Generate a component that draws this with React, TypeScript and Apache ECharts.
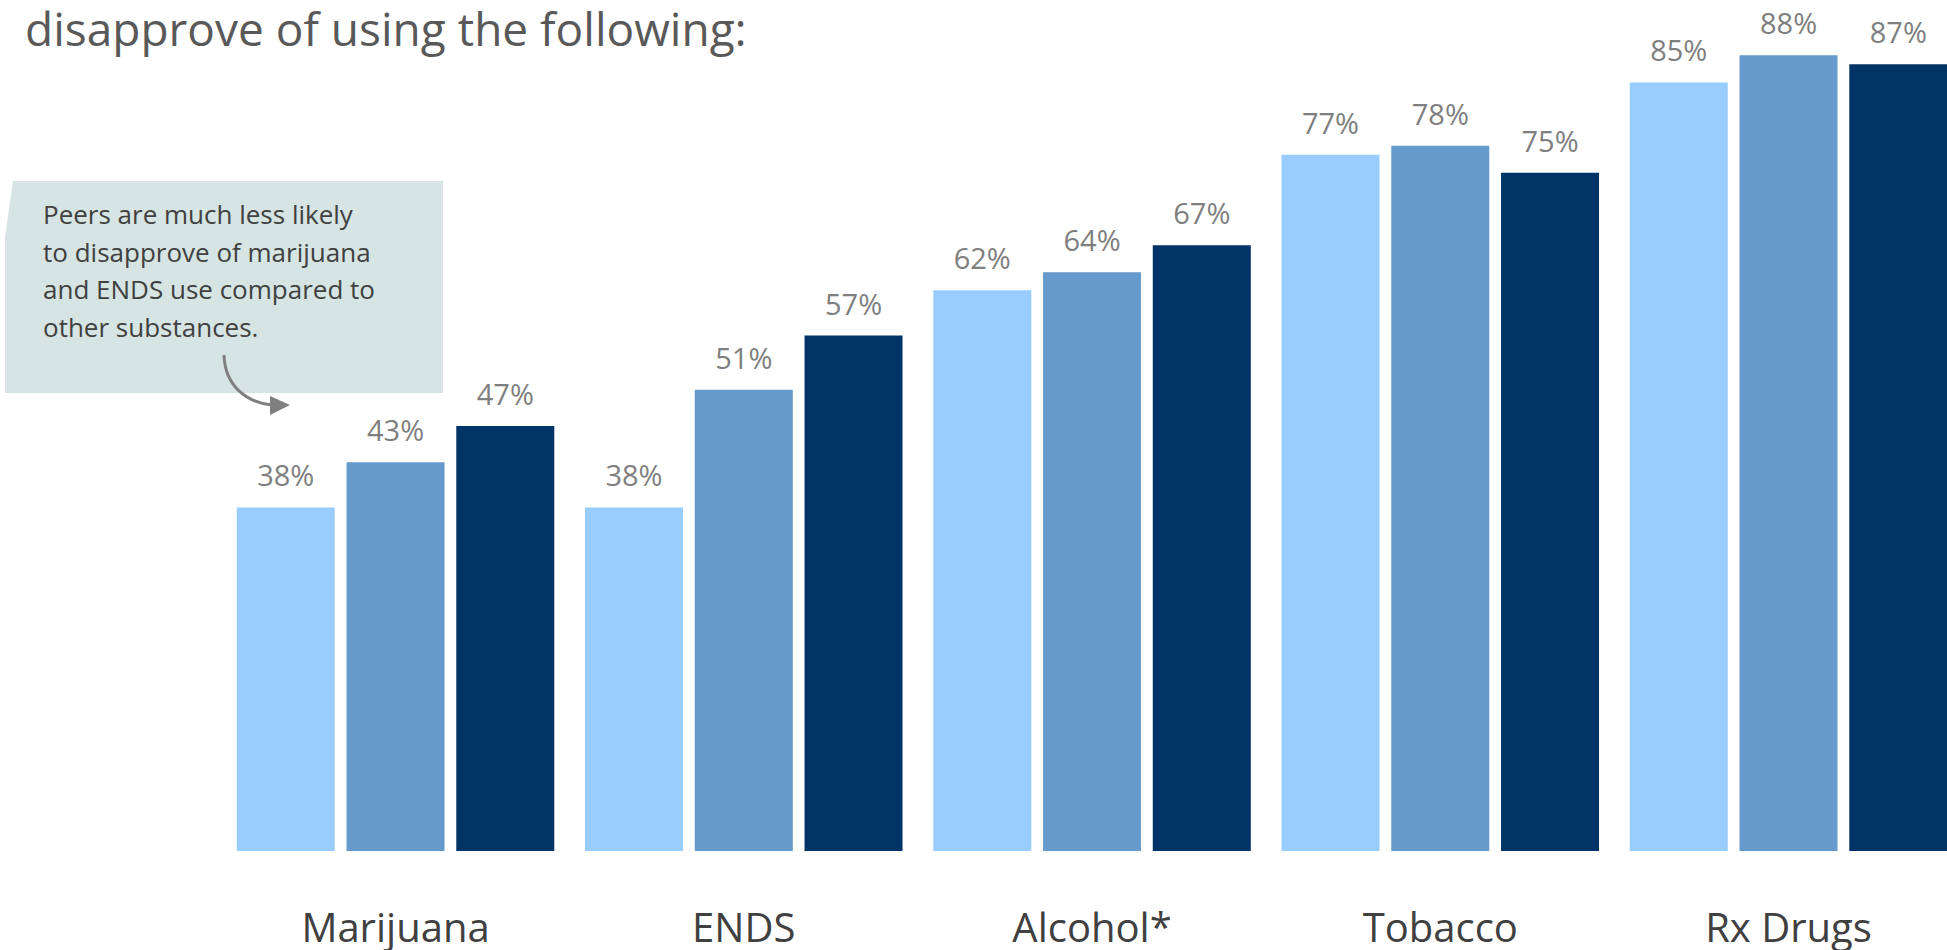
import React, { useEffect, useRef } from "react";
import * as echarts from "echarts";

const categories = ["Marijuana", "ENDS", "Alcohol*", "Tobacco", "Rx Drugs"];
const seriesNames = ["Survey 1", "Survey 2", "Survey 3"];
const lightValues = [38, 38, 62, 77, 85];
const midValues = [43, 51, 64, 78, 88];
const darkValues = [47, 57, 67, 75, 87];
const titleText = "disapprove of using the following:";
const noteLines = [
  "Peers are much less likely",
  "to disapprove of marijuana",
  "and ENDS use compared to",
  "other substances.",
];

const COLORS = ["#99CCFF", "#6699CC", "#003366"];

export default function App() {
  const ref = useRef<HTMLDivElement>(null);
  useEffect(() => {
    if (!ref.current) return;
    const chart = echarts.init(ref.current, undefined, { renderer: "svg" });
    const mk = (name: string, data: number[], color: string) => ({
      name,
      type: "bar",
      data,
      barWidth: 98,
      barGap: "12%",
      itemStyle: { color },
      label: {
        show: true,
        position: "top",
        distance: 18,
        formatter: "{c}%",
        fontFamily: "Open Sans",
        fontSize: 29,
        color: "#7F7F7F",
      },
    });
    chart.setOption({
      animation: false,
      backgroundColor: "#FFFFFF",
      grid: { left: 221.4, width: 1741.25, top: 1, height: 850 },
      xAxis: {
        type: "category",
        data: categories,
        axisLine: { show: false },
        axisTick: { show: false },
        axisLabel: {
          margin: 55,
          fontFamily: "Open Sans",
          fontSize: 40,
          color: "#404040",
        },
      },
      yAxis: {
        type: "value",
        min: 0,
        max: 94,
        show: false,
        splitLine: { show: false },
      },
      series: [
        mk(seriesNames[0], lightValues, COLORS[0]),
        mk(seriesNames[1], midValues, COLORS[1]),
        mk(seriesNames[2], darkValues, COLORS[2]),
      ],
      graphic: [
        {
          type: "text",
          left: 25,
          top: 5,
          style: {
            text: titleText,
            fontFamily: "Open Sans",
            fontSize: 46,
            fill: "#595959",
          },
        },
        {
          type: "polygon",
          shape: {
            points: [
              [13, 181],
              [443, 181],
              [443, 393],
              [5, 393],
              [5, 237],
            ],
          },
          style: { fill: "#D6E5E3" },
        },
        {
          type: "text",
          x: 43,
          y: 195,
          style: {
            text: noteLines.join("\n"),
            fontFamily: "Open Sans",
            fontSize: 26,
            lineHeight: 37.7,
            fill: "#404040",
          },
        },
        {
          type: "bezierCurve",
          shape: {
            x1: 224,
            y1: 355,
            cpx1: 225,
            cpy1: 385,
            cpx2: 245,
            cpy2: 402,
            x2: 272,
            y2: 405,
          },
          style: { stroke: "#7F7F7F", lineWidth: 3, fill: null },
        },
        {
          type: "polygon",
          shape: {
            points: [
              [270, 396],
              [290, 405],
              [270, 415],
            ],
          },
          style: { fill: "#7F7F7F" },
        },
      ],
    });
    return () => chart.dispose();
  }, []);
  return (
    <div
      style={{
        position: "fixed",
        left: 0,
        top: 0,
        width: 1947,
        height: 950,
        overflow: "hidden",
        background: "#FFFFFF",
      }}
    >
      <div ref={ref} style={{ width: 1990, height: 950 }} />
    </div>
  );
}
